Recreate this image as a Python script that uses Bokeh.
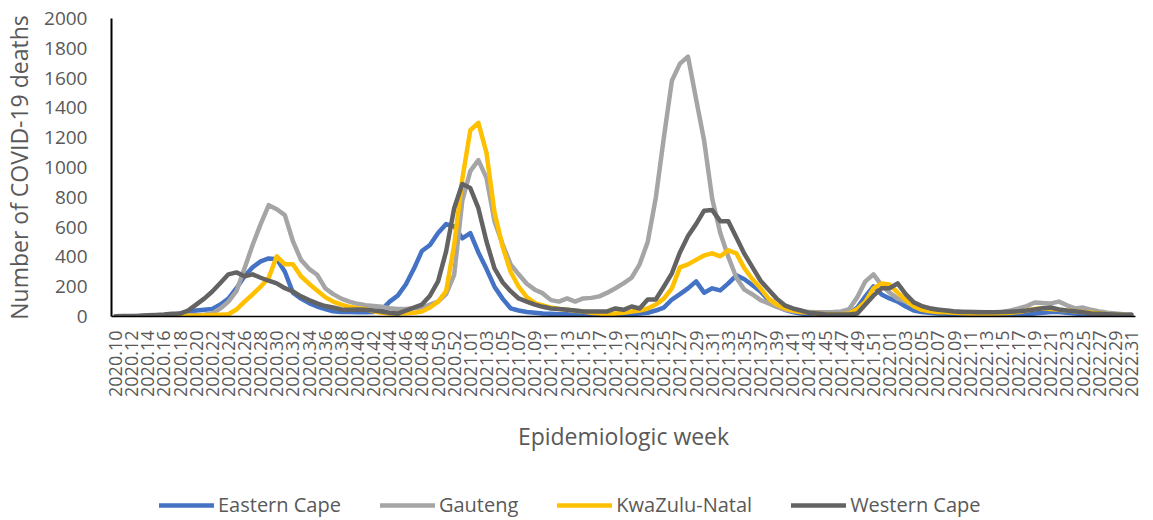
import math
from bokeh.plotting import figure
from bokeh.layouts import column
from bokeh.models import Range1d, Legend, LegendItem, FixedTicker
from bokeh.embed import file_html
from bokeh.resources import INLINE

# Epidemiologic weeks 2020.10 .. 2022.31
weeks = ([f"2020.{w:02d}" for w in range(10, 54)]
         + [f"2021.{w:02d}" for w in range(1, 53)]
         + [f"2022.{w:02d}" for w in range(1, 32)])

eastern_cape = [
    0, 1, 2, 3, 4, 6, 8, 12, 20, 30,
    40, 45, 50, 80, 120, 190, 270, 330, 370, 390,
    385, 300, 160, 120, 90, 67, 50, 35, 30, 30,
    28, 28, 30, 45, 100, 140, 215, 320, 440, 480,
    560, 620, 605, 525, 560, 430, 320, 200, 120, 55,
    40, 30, 25, 20, 18, 15, 15, 12, 12, 12,
    10, 10, 10, 12, 15, 20, 25, 40, 60, 114,
    150, 189, 236, 160, 189, 175, 222, 276, 250, 210,
    168, 110, 70, 45, 30, 20, 15, 12, 10, 10,
    12, 20, 60, 135, 202, 148, 121, 100, 67, 40,
    30, 25, 20, 18, 15, 12, 12, 10, 10, 10,
    10, 10, 12, 15, 20, 25, 30, 30, 25, 20,
    15, 12, 10, 8, 6, 5, 5,
]
gauteng = [
    0, 0, 1, 2, 3, 4, 5, 5, 6, 8,
    10, 12, 20, 54, 100, 170, 323, 480, 620, 747,
    720, 680, 505, 380, 320, 280, 190, 150, 120, 100,
    85, 75, 70, 65, 55, 50, 50, 55, 60, 80,
    100, 150, 280, 775, 976, 1050, 930, 640, 485, 350,
    283, 220, 180, 155, 110, 100, 121, 100, 121, 125,
    135, 160, 190, 222, 260, 350, 500, 795, 1199, 1582,
    1697, 1744, 1460, 1180, 790, 560, 400, 260, 180, 148,
    110, 88, 65, 47, 35, 30, 30, 28, 28, 30,
    34, 50, 130, 236, 283, 210, 160, 120, 100, 80,
    67, 55, 47, 40, 35, 32, 30, 30, 28, 28,
    30, 40, 54, 70, 94, 90, 88, 100, 75, 54,
    60, 45, 34, 25, 20, 15, 13,
]
kwazulu_natal = [
    0, 0, 0, 1, 1, 2, 2, 3, 3, 5,
    5, 8, 10, 12, 15, 47, 100, 148, 200, 260,
    404, 350, 350, 270, 220, 175, 130, 100, 80, 65,
    55, 50, 35, 25, 20, 20, 22, 25, 34, 60,
    100, 170, 480, 920, 1250, 1300, 1100, 700, 470, 300,
    200, 130, 90, 75, 60, 50, 45, 38, 34, 25,
    20, 13, 20, 25, 34, 40, 54, 80, 120, 189,
    330, 350, 380, 410, 424, 404, 444, 424, 323, 250,
    189, 120, 80, 55, 40, 30, 25, 20, 15, 15,
    15, 20, 50, 100, 189, 222, 215, 160, 110, 67,
    45, 35, 30, 28, 25, 22, 20, 20, 20, 20,
    22, 25, 30, 40, 50, 55, 50, 45, 40, 35,
    30, 25, 20, 15, 12, 10, 8,
]
western_cape = [
    2, 3, 4, 5, 8, 10, 13, 18, 20, 40,
    80, 120, 168, 225, 283, 296, 270, 283, 260, 240,
    222, 190, 168, 135, 110, 88, 70, 60, 47, 45,
    47, 45, 40, 34, 25, 20, 40, 60, 80, 140,
    236, 437, 727, 889, 862, 727, 505, 323, 230, 170,
    121, 100, 80, 65, 54, 50, 45, 40, 34, 34,
    34, 34, 54, 45, 67, 54, 114, 114, 200, 290,
    430, 540, 620, 710, 714, 640, 640, 530, 420, 330,
    240, 180, 120, 75, 54, 40, 25, 20, 15, 13,
    13, 13, 20, 80, 140, 189, 190, 222, 150, 95,
    70, 54, 45, 40, 34, 30, 30, 28, 28, 28,
    30, 32, 35, 40, 47, 55, 60, 47, 40, 35,
    28, 20, 18, 15, 13, 12, 12,
]

series_names = ["Eastern Cape", "Gauteng", "KwaZulu-Natal", "Western Cape"]
series_values = [eastern_cape, gauteng, kwazulu_natal, western_cape]
series_colors = ["#4472C4", "#A5A5A5", "#FFC000", "#636363"]

FONT = "Open Sans"
TXT = "#595959"
LW = 4.5

xs = list(range(len(weeks)))

p = figure(frame_width=1024, frame_height=298, output_backend="svg",
           toolbar_location=None,
           x_range=Range1d(-0.5, len(weeks) - 0.5), y_range=Range1d(0, 2000),
           min_border_left=104, min_border_right=9, min_border_top=18,
           min_border_bottom=164)
p.outline_line_color = None
p.xgrid.visible = False
p.ygrid.visible = False

for name, vals, col in zip(series_names, series_values, series_colors):
    p.line(xs, vals, line_color=col, line_width=LW,
           line_join="round", line_cap="round")

# y axis
p.yaxis.ticker = FixedTicker(ticks=list(range(0, 2001, 200)))
p.yaxis.axis_line_color = "black"
p.yaxis.axis_line_width = 2
p.yaxis.major_tick_line_color = None
p.yaxis.minor_tick_line_color = None
p.yaxis.major_label_standoff = 18
p.yaxis.major_label_text_font = FONT
p.yaxis.major_label_text_font_size = "19px"
p.yaxis.major_label_text_color = TXT
p.yaxis.axis_label = "Number of COVID-19 deaths"
p.yaxis.axis_label_text_font = FONT
p.yaxis.axis_label_text_font_size = "23px"
p.yaxis.axis_label_text_font_style = "normal"
p.yaxis.axis_label_text_color = TXT
p.yaxis.axis_label_standoff = 6

# x axis
p.xaxis.ticker = FixedTicker(ticks=list(range(0, len(weeks), 2)))
p.xaxis.major_label_overrides = {i: weeks[i] for i in range(0, len(weeks), 2)}
p.xaxis.major_label_orientation = math.pi / 2
p.xaxis.axis_line_color = "black"
p.xaxis.axis_line_width = 1.5
p.xaxis.major_tick_line_color = None
p.xaxis.minor_tick_line_color = None
p.xaxis.major_label_standoff = 8
p.xaxis.major_label_text_font = FONT
p.xaxis.major_label_text_font_size = "18px"
p.xaxis.major_label_text_color = TXT
p.xaxis.axis_label = "Epidemiologic week"
p.xaxis.axis_label_text_font = FONT
p.xaxis.axis_label_text_font_size = "23px"
p.xaxis.axis_label_text_font_style = "normal"
p.xaxis.axis_label_text_color = TXT
p.xaxis.axis_label_standoff = 20

# legend strip below the chart
lg = figure(width=1137, height=40, output_backend="svg", toolbar_location=None,
            x_range=Range1d(0, 1), y_range=Range1d(0, 1), min_border=0)
lg.axis.visible = False
lg.grid.visible = False
lg.outline_line_color = None
items = []
for name, col in zip(series_names, series_colors):
    # legend key only: the line lies outside the strip's visible range
    r = lg.line([5, 6], [5, 6], line_color=col, line_width=LW, line_cap="round")
    items.append(LegendItem(label=name, renderers=[r]))
legend = Legend(items=items, orientation="horizontal", location=(48, 2),
                label_text_font=FONT, label_text_font_size="20px",
                label_text_color=TXT, glyph_width=55, glyph_height=20,
                label_standoff=4, spacing=39, padding=0, margin=0,
                border_line_color=None, background_fill_alpha=0)
lg.add_layout(legend, "center")

layout = column(p, lg, spacing=0)

with open("out.html", "w") as f:
    f.write(file_html(layout, INLINE))
